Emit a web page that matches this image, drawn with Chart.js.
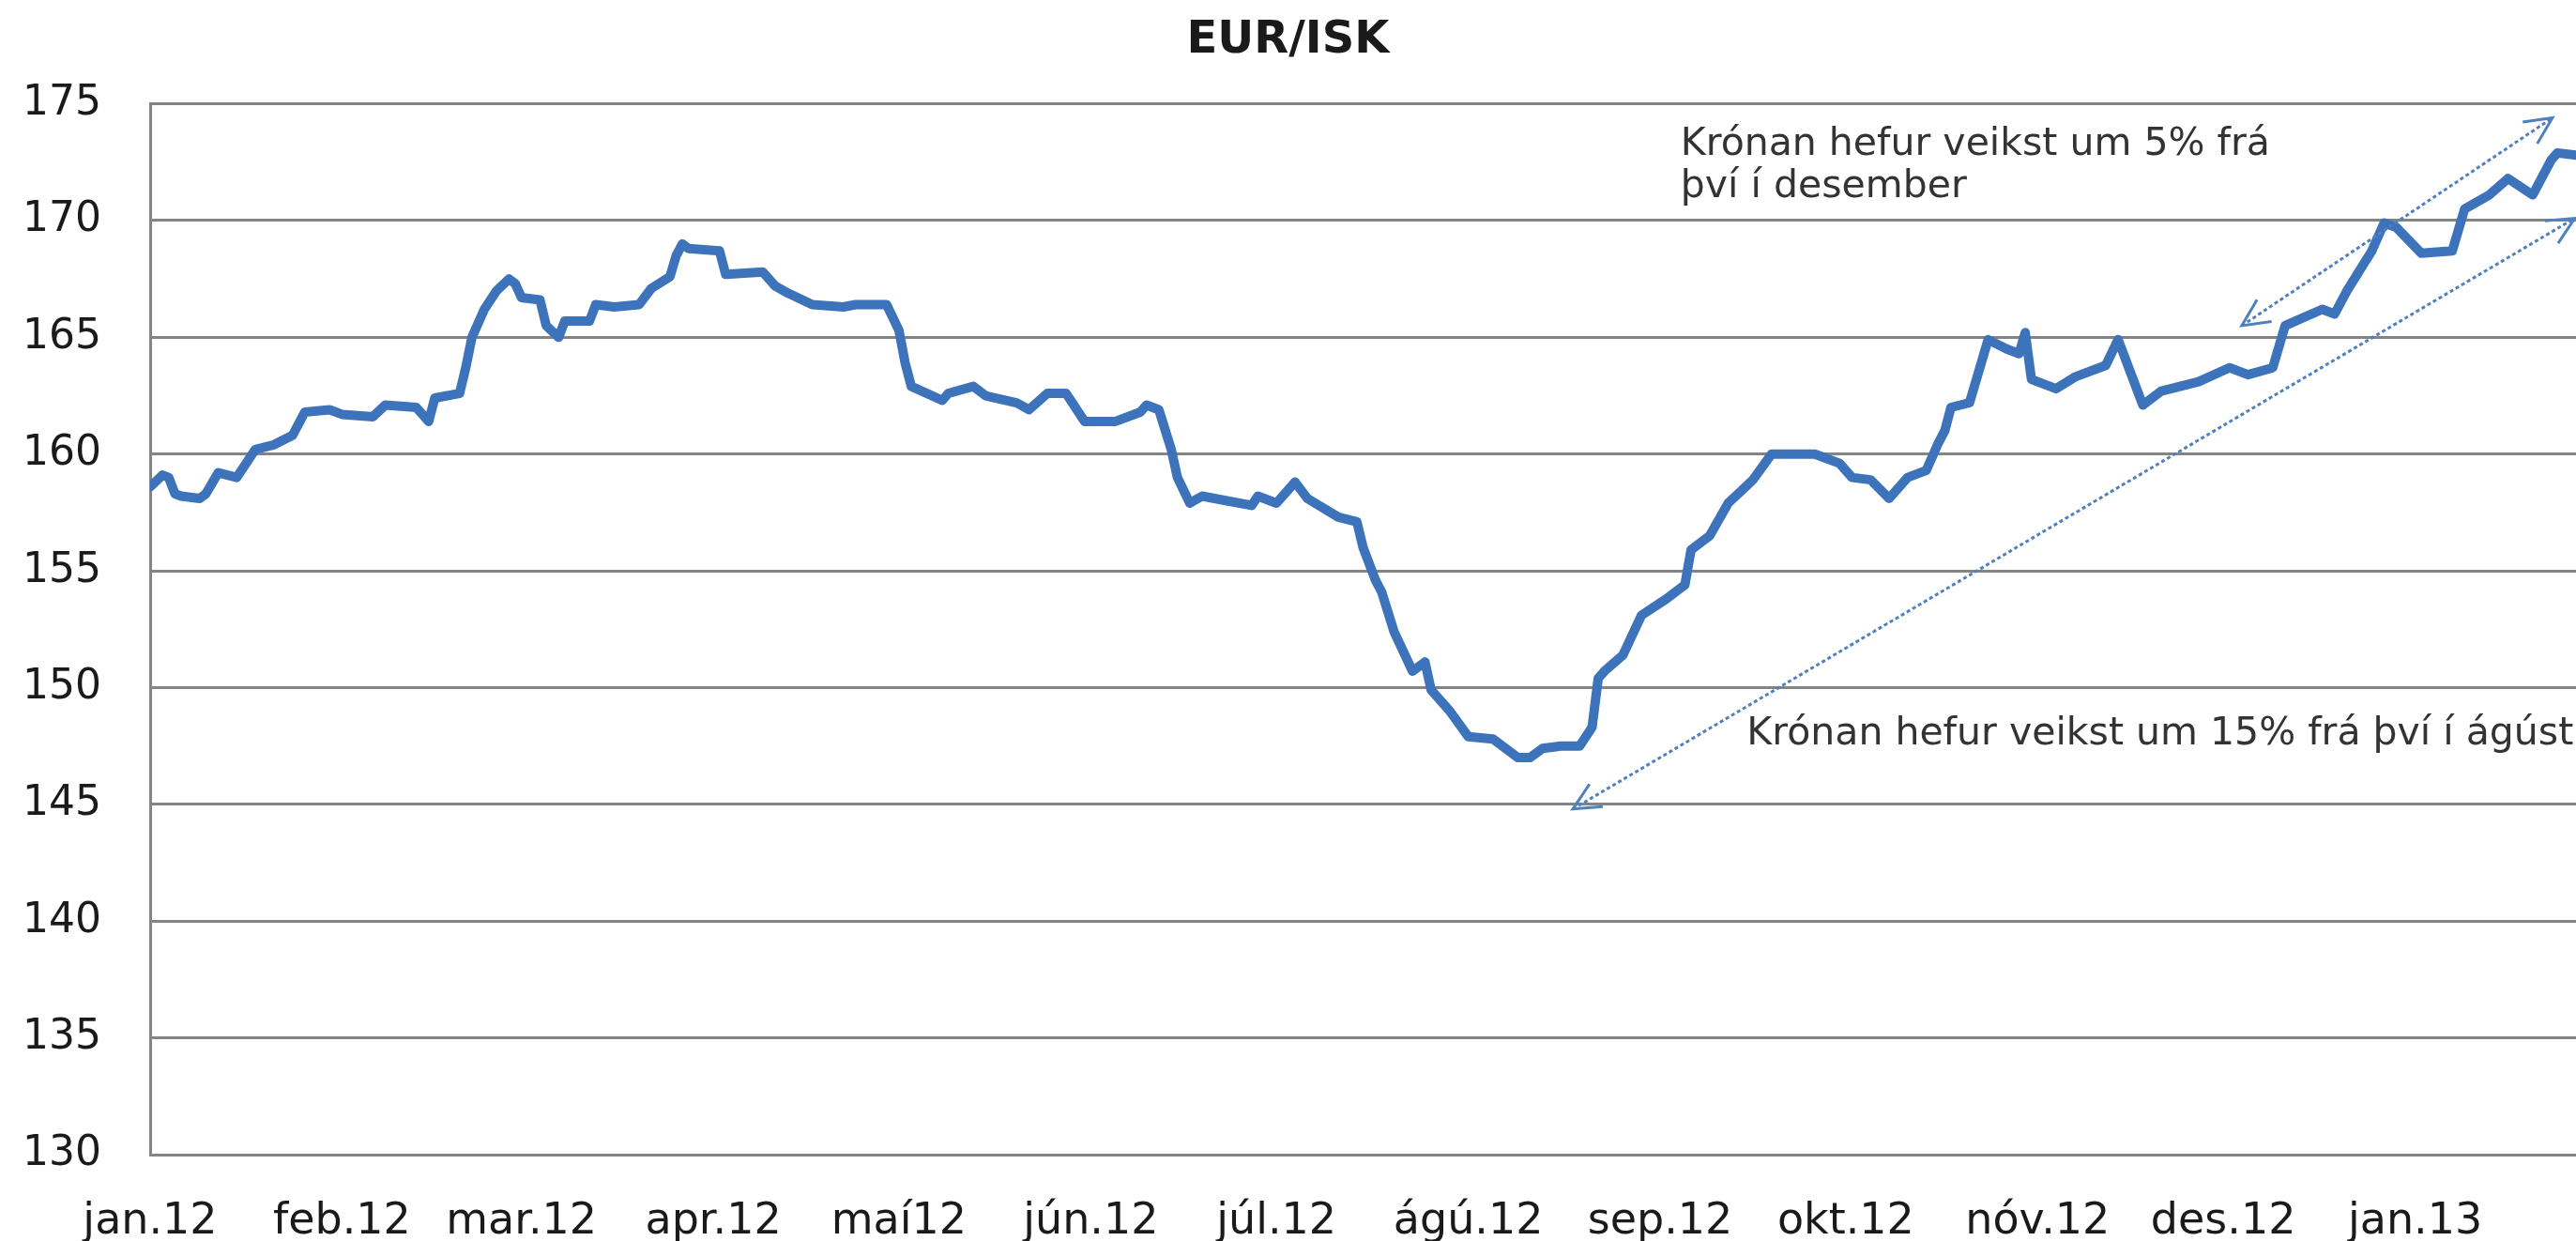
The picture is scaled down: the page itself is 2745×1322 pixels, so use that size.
<!DOCTYPE html>
<html>
<head>
<meta charset="utf-8">
<script src="https://cdn.jsdelivr.net/npm/chart.js@4"></script>
<style>
html,body{margin:0;padding:0;background:#ffffff;}
#wrap{width:2745px;height:1322px;}
</style>
</head>
<body>
<div id="wrap"><canvas id="c" width="2745" height="1322"></canvas></div>
<script>
// ---- data ----
const chartTitle = 'EUR/ISK';
const monthLabels = ['jan.12','feb.12','mar.12','apr.12','maí12','jún.12','júl.12','ágú.12','sep.12','okt.12','nóv.12','des.12','jan.13'];
const monthStartDays = [0,31,60,91,121,152,182,213,244,274,305,335,366];
const yTicks = [130,135,140,145,150,155,160,165,170,175];
// days since 1 Jan 2012
const days = [0,2,3,4,5,8,9,11,14,17,20,23,25,29,31,36,38,43,45,46,50,51,52,54,56,58,59,60,63,64,66,67,71,72,75,79,81,84,85,86,87,92,93,99,101,103,107,112,114,119,121,122,123,128,129,133,135,140,142,145,148,151,156,160,161,163,165,166,168,170,174,178,179,182,185,187,192,195,196,198,199,201,204,206,207,210,213,217,221,223,225,228,231,233,234,235,238,241,245,248,249,252,255,257,259,262,269,273,275,278,281,284,287,289,290,291,294,297,300,302,303,304,308,311,316,318,322,325,331,336,339,343,345,351,353,355,359,361,363,367,372,374,378,381,385,388,389,392];
const rates = [158.6,159.1,159.0,158.3,158.2,158.1,158.3,159.2,159.0,160.2,160.4,160.8,161.8,161.9,161.7,161.6,162.1,162.0,161.4,162.4,162.6,163.7,165.0,166.2,167.0,167.5,167.3,166.7,166.6,165.5,165.0,165.7,165.7,166.4,166.3,166.4,167.1,167.6,168.5,169.0,168.8,168.7,167.7,167.8,167.2,166.9,166.4,166.3,166.4,166.4,165.3,163.9,162.9,162.3,162.6,162.9,162.5,162.2,161.9,162.6,162.6,161.4,161.4,161.8,162.1,161.9,160.2,159.0,157.9,158.2,158.0,157.8,158.2,157.9,158.8,158.1,157.3,157.1,156.0,154.6,154.1,152.4,150.7,151.1,149.9,149.0,147.9,147.8,147.0,147.0,147.4,147.5,147.5,148.3,150.4,150.7,151.4,153.1,153.8,154.4,155.9,156.5,157.9,158.4,158.9,160.0,160.0,159.6,159.0,158.9,158.1,159.0,159.3,160.5,161.0,162.0,162.2,164.9,164.5,164.3,165.2,163.2,162.8,163.3,163.8,164.9,162.1,162.7,163.1,163.7,163.4,163.7,165.5,166.2,166.0,167.0,168.7,169.9,169.7,168.6,168.7,170.5,171.1,171.8,171.1,172.6,172.9,172.8];
// annotations in data units [day, rate]
const arrowFrom = [[338,165.5],[229.9,144.8]];
const arrowTo   = [[388.2,174.4],[391.8,170.1]];
const noteLines = [['Krónan hefur veikst um 5% frá','því í desember'],['Krónan hefur veikst um 15% frá því í ágúst']];
const noteAt    = [[247.3,172.83],[258.0,147.58]];

// ---- styles ----
const FONT = 'DejaVu Sans';
const lineColor = '#3c73bb';
const arrowColor = '#4f81bd';
const gridColor = '#848484';
const textColor = '#1a1a1a';

function head(ctx, xt, yt, xf, yf){
  const ang = Math.atan2(yt-yf, xt-xf);
  const L = 32, a = 0.45;
  ctx.beginPath();
  ctx.moveTo(xt - L*Math.cos(ang-a), yt - L*Math.sin(ang-a));
  ctx.lineTo(xt, yt);
  ctx.lineTo(xt - L*Math.cos(ang+a), yt - L*Math.sin(ang+a));
  ctx.stroke();
}

const annotPlugin = {
  id:'annot',
  afterDatasetsDraw(chart){
    const {ctx} = chart;
    const x = chart.scales.x, y = chart.scales.y;
    ctx.save();
    ctx.strokeStyle = arrowColor;
    ctx.lineWidth = 3;
    for(let i=0;i<arrowFrom.length;i++){
      const x1 = x.getPixelForValue(arrowFrom[i][0]), y1 = y.getPixelForValue(arrowFrom[i][1]);
      const x2 = x.getPixelForValue(arrowTo[i][0]), y2 = y.getPixelForValue(arrowTo[i][1]);
      ctx.setLineDash([4,3]);
      ctx.beginPath(); ctx.moveTo(x1,y1); ctx.lineTo(x2,y2); ctx.stroke();
      ctx.setLineDash([]);
      head(ctx, x2, y2, x1, y1);
      head(ctx, x1, y1, x2, y2);
    }
    ctx.fillStyle = '#333333';
    ctx.font = '41px "' + FONT + '"';
    ctx.textBaseline = 'alphabetic';
    ctx.textAlign = 'left';
    for(let i=0;i<noteLines.length;i++){
      const px = x.getPixelForValue(noteAt[i][0]), py = y.getPixelForValue(noteAt[i][1]);
      noteLines[i].forEach((t,k)=>ctx.fillText(t, px, py + k*45));
    }
    ctx.restore();
  }
};

new Chart(document.getElementById('c'), {
  type:'line',
  data:{
    datasets:[{
      data: days.map((d,i)=>({x:d, y:rates[i]})),
      borderColor: lineColor,
      borderWidth: 10,
      pointRadius: 0,
      tension: 0,
      fill: false,
      borderJoinStyle: 'round',
      borderCapStyle: 'round'
    }]
  },
  options:{
    responsive:false,
    animation:false,
    devicePixelRatio:1,
    layout:{padding:{left:0,right:0,top:0,bottom:0}},
    plugins:{
      legend:{display:false},
      tooltip:{enabled:false},
      title:{display:true, text:chartTitle, color:'#1a1a1a',
        font:{family:FONT, size:48, weight:'bold'}, padding:{top:15,bottom:38}}
    },
    scales:{
      x:{
        type:'linear', min:0, max:392,
        grid:{display:false, drawTicks:false},
        border:{display:false},
        afterBuildTicks: s => { s.ticks = monthStartDays.map(v=>({value:v})); },
        afterFit: s => { s.height = 92; },
        ticks:{autoSkip:false, maxRotation:0, minRotation:0, padding:44,
          font:{family:FONT, size:46}, color:textColor,
          callback:(v,i)=>monthLabels[i]}
      },
      y:{
        type:'linear', min:130, max:175,
        afterBuildTicks: s => { s.ticks = yTicks.map(v=>({value:v})); },
        afterFit: s => { s.width = 160; },
        grid:{color:gridColor, lineWidth:3, drawTicks:false},
        border:{display:true, color:gridColor, width:3},
        ticks:{padding:52, font:{family:FONT, size:44}, color:textColor}
      }
    }
  },
  plugins:[annotPlugin]
});
</script>
</body>
</html>
